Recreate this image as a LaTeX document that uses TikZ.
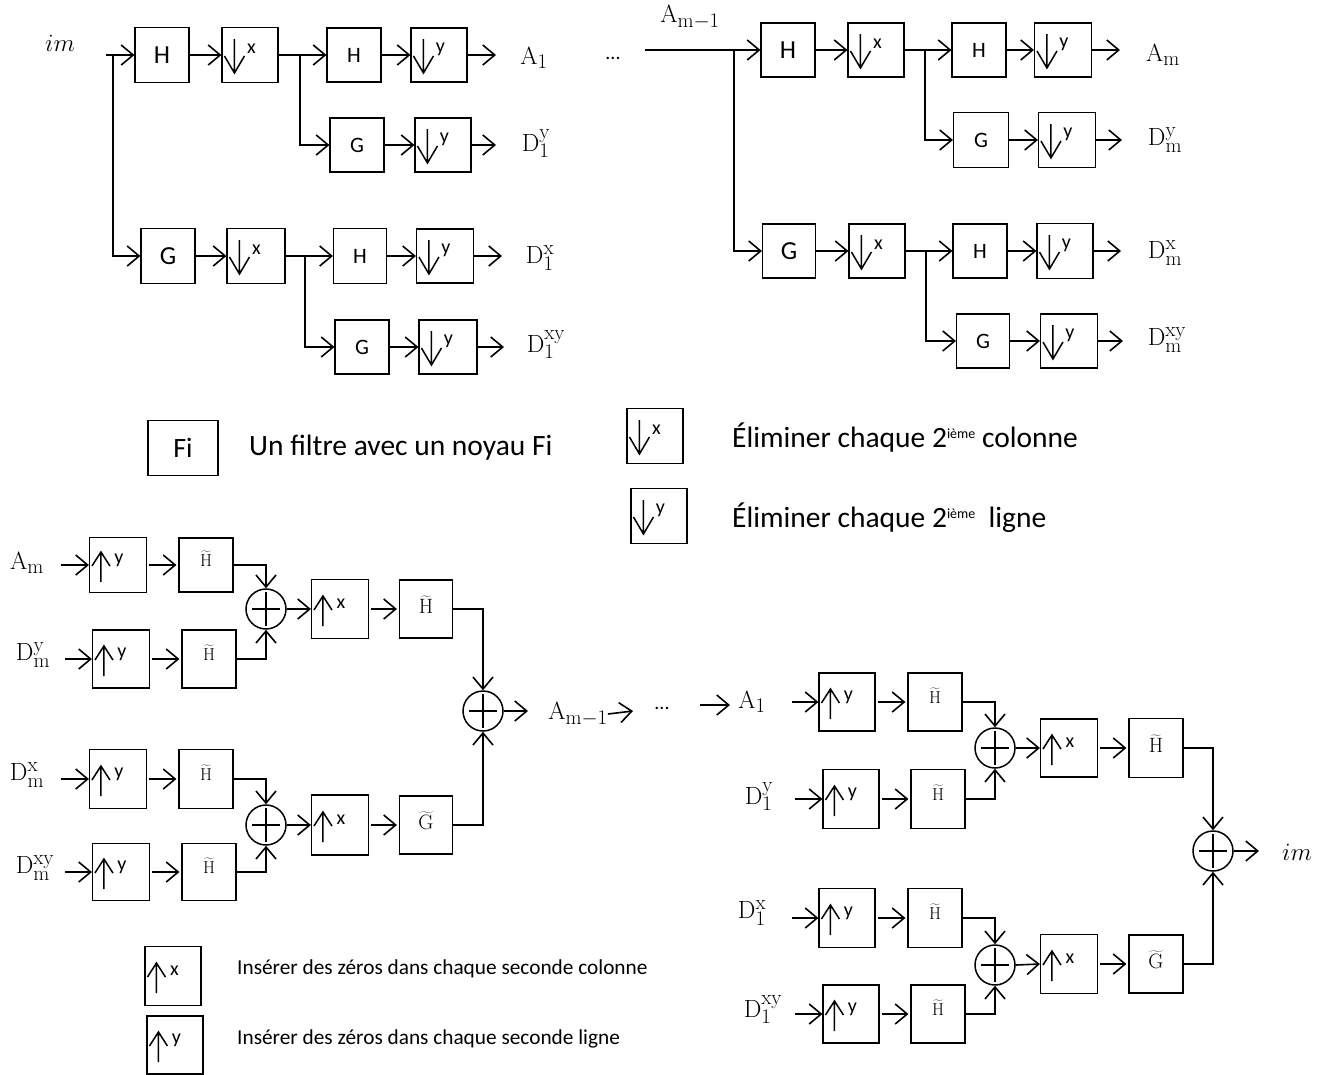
\documentclass[tikz,border=0pt]{standalone}
\usepackage[no-math]{fontspec}
\newfontfamily\calib{Carlito}
\usetikzlibrary{arrows.meta,calc}
\newcommand{\dnbox}[6]{%
  \node[bx, minimum width=#4pt, minimum height=#5pt] (#1) at (#2,#3) {};
  \draw[glyph] ($(#1.west)+(13,-16)$) -- ($(#1.west)+(13,18)$)
     ($(#1.west)+(3,1)$) -- ($(#1.west)+(13,18)$) -- ($(#1.west)+(23,1)$);
  \node[lettxt] (#1-l) at ($(#1.west)+(30,-6)$) {#6};
}
\newcommand{\upbox}[6]{%
  \node[bx, minimum width=#4pt, minimum height=#5pt] (#1) at (#2,#3) {};
  \draw[glyph] ($(#1.west)+(12,17)$) -- ($(#1.west)+(12,-13)$)
     ($(#1.west)+(3,1)$) -- ($(#1.west)+(12,-13)$) -- ($(#1.west)+(21,1)$);
  \node[lettxt] (#1-l) at ($(#1.west)+(30,-5)$) {#6};
}
\newcommand{\sumnode}[3]{%
  \node[sumc] (#1) at (#2,#3) {};
  \draw[plusln] ($(#1.center)+(-14,0)$) -- ($(#1.center)+(14,0)$)
                ($(#1.center)+(0,-17)$) -- ($(#1.center)+(0,17)$);
}
\newcommand{\supi}[1]{\raisebox{9pt}{\fontsize{14}{15}\selectfont #1}}
\begin{document}
\begin{tikzpicture}[x=1pt,y=-1pt,
  bx/.style={draw, line width=1.1pt, inner sep=0pt, rectangle},
  glyph/.style={line width=1.5pt},
  lettxt/.style={font=\calib\fontsize{20}{22}\selectfont, inner sep=0pt},
  conn/.style={line width=1.6pt},
  arr/.style={conn,-{Straight Barb[length=12pt,width=20pt]}},
  lab/.style={font=\fontsize{24.88}{28}\selectfont, inner sep=0pt},
  bigtxt/.style={font=\calib\fontsize{26}{30}\selectfont},
  smalltxt/.style={font=\calib\fontsize{22}{26}\selectfont},
  htone/.style={font=\fontsize{17.28}{20}\selectfont, text depth=13pt},
  httwo/.style={font=\fontsize{20.74}{24}\selectfont, text depth=8pt},
  legtxt/.style={font=\calib\fontsize{29.5}{33}\selectfont, inner sep=0pt, anchor=west},
  smleg/.style={font=\calib\fontsize{21.3}{24}\selectfont, inner sep=0pt, anchor=west},
  sumc/.style={draw, circle, line width=1.5pt, minimum size=40pt, inner sep=0pt},
  plusln/.style={line width=2.6pt}
]
\useasboundingbox (0,0) rectangle (1330,1074);

% ================= top-left decomposition =================
\node[lab] (im1) at (60,43) {$im$};
\coordinate (in1) at (106,55);
\coordinate (sp1) at (113,55);
\node[bx,bigtxt,minimum width=54pt,minimum height=55pt] (tH1) at (162,55) {H};
\dnbox{tDx1}{250}{55}{56}{55}{x}
\node[bx,smalltxt,minimum width=54pt,minimum height=54pt] (tH2) at (354,55) {H};
\dnbox{tDy1}{439}{55}{56}{54}{y}
\coordinate (tA1e) at (496,55);
\node[lab] (tA1) at (534,58) {$\mathrm{A}_1$};

\node[bx,smalltxt,minimum width=54pt,minimum height=54pt] (tG2) at (357,145) {G};
\dnbox{tDy2}{443}{145}{56}{54}{y}
\coordinate (tDye) at (496,145);
\node[lab] (tD1y) at (536,144) {$\mathrm{D}_1^{\mathrm{y}}$};

\node[bx,bigtxt,minimum width=54pt,minimum height=55pt] (tG1) at (168,256) {G};
\dnbox{tDx2}{256}{256}{58}{55}{x}
\node[bx,smalltxt,minimum width=53pt,minimum height=55pt] (tH3) at (360,256) {H};
\dnbox{tDy3}{445}{256}{57}{54}{y}
\coordinate (tDxe) at (502,256);
\node[lab] (tD1x) at (540,258) {$\mathrm{D}_1^{\mathrm{x}}$};

\node[bx,smalltxt,minimum width=54pt,minimum height=54pt] (tG3) at (362,347) {G};
\dnbox{tDy4}{448}{347}{58}{54}{y}
\coordinate (tDxye) at (504,347);
\node[lab] (tD1xy) at (546,345) {$\mathrm{D}_1^{\mathrm{xy}}$};

\coordinate (sp2) at (300,55);
\coordinate (sp3) at (305,256);
\draw[arr] (in1) -- (tH1.west);
\draw[arr] (sp1) |- (tG1.west);
\draw[arr] (tH1.east) -- (tDx1.west);
\draw[arr] (tDx1.east) -- (tH2.west);
\draw[arr] (sp2) |- (tG2.west);
\draw[arr] (tH2.east) -- (tDy1.west);
\draw[arr] (tDy1.east) -- (tA1e);
\draw[arr] (tG2.east) -- (tDy2.west);
\draw[arr] (tDy2.east) -- (tDye);
\draw[arr] (tG1.east) -- (tDx2.west);
\draw[arr] (tDx2.east) -- (tH3.west);
\draw[arr] (sp3) |- (tG3.west);
\draw[arr] (tH3.east) -- (tDy3.west);
\draw[arr] (tDy3.east) -- (tDxe);
\draw[arr] (tG3.east) -- (tDy4.west);
\draw[arr] (tDy4.east) -- (tDxye);

\node[font=\calib\fontsize{20}{24}\selectfont, anchor=base, inner sep=0pt] (dots1) at (613,59) {...};

% ================= top-right decomposition =================
\node[lab] (rAm1) at (690,17) {$\mathrm{A}_{\mathrm{m}-1}$};
\coordinate (in2) at (645,50);
\coordinate (sp4) at (734,50);
\node[bx,bigtxt,minimum width=54pt,minimum height=54pt] (rH1) at (788,50) {H};
\dnbox{rDx1}{876}{50}{56}{54}{x}
\node[bx,smalltxt,minimum width=54pt,minimum height=54pt] (rH2) at (979,50) {H};
\dnbox{rDy1}{1063}{50}{57}{54}{y}
\coordinate (rAme) at (1120,50);
\node[lab] (rAm) at (1163,55) {$\mathrm{A}_{\mathrm{m}}$};

\node[bx,smalltxt,minimum width=55pt,minimum height=55pt] (rG2) at (981,140) {G};
\dnbox{rDy2}{1067}{140}{57}{55}{y}
\coordinate (rDye) at (1122,140);
\node[lab] (rDmy) at (1165,140) {$\mathrm{D}_{\mathrm{m}}^{\mathrm{y}}$};

\node[bx,bigtxt,minimum width=53pt,minimum height=54pt] (rG1) at (789,251) {G};
\dnbox{rDx2}{877}{251}{56}{54}{x}
\node[bx,smalltxt,minimum width=54pt,minimum height=54pt] (rH3) at (980,251) {H};
\dnbox{rDy3}{1065}{251}{56}{55}{y}
\coordinate (rDxe) at (1121,251);
\node[lab] (rDmx) at (1165,253) {$\mathrm{D}_{\mathrm{m}}^{\mathrm{x}}$};

\node[bx,smalltxt,minimum width=53pt,minimum height=54pt] (rG3) at (983,341) {G};
\dnbox{rDy4}{1069}{341}{57}{54}{y}
\coordinate (rDxye) at (1123,341);
\node[lab] (rDmxy) at (1167,340) {$\mathrm{D}_{\mathrm{m}}^{\mathrm{xy}}$};

\coordinate (sp5) at (925,50);
\coordinate (sp6) at (926,251);
\draw[arr] (in2) -- (rH1.west);
\draw[arr] (sp4) |- (rG1.west);
\draw[arr] (rH1.east) -- (rDx1.west);
\draw[arr] (rDx1.east) -- (rH2.west);
\draw[arr] (sp5) |- (rG2.west);
\draw[arr] (rH2.east) -- (rDy1.west);
\draw[arr] (rDy1.east) -- (rAme);
\draw[arr] (rG2.east) -- (rDy2.west);
\draw[arr] (rDy2.east) -- (rDye);
\draw[arr] (rG1.east) -- (rDx2.west);
\draw[arr] (rDx2.east) -- (rH3.west);
\draw[arr] (sp6) |- (rG3.west);
\draw[arr] (rH3.east) -- (rDy3.west);
\draw[arr] (rDy3.east) -- (rDxe);
\draw[arr] (rG3.east) -- (rDy4.west);
\draw[arr] (rDy4.east) -- (rDxye);

% ================= legend (top) =================
\node[bx, font=\calib\fontsize{28}{32}\selectfont, minimum width=70pt, minimum height=55pt] (lF) at (183,448) {Fi};
\node[legtxt] (lFt) at (249,448) {Un filtre avec un noyau Fi};
\dnbox{lDx}{655}{436}{56}{55}{x}
\node[legtxt] (lDxt) at (732,438) {Éliminer chaque 2\supi{ième} colonne};
\dnbox{lDy}{659}{516}{56}{55}{y}
\node[legtxt] (lDyt) at (732,518) {Éliminer chaque 2\supi{ième}\ \ ligne};

% ================= bottom-left reconstruction =================
\node[lab] (bAm) at (27,563) {$\mathrm{A}_{\mathrm{m}}$};
\node[lab] (bDmy) at (33,655) {$\mathrm{D}_{\mathrm{m}}^{\mathrm{y}}$};
\node[lab] (bDmx) at (27,775) {$\mathrm{D}_{\mathrm{m}}^{\mathrm{x}}$};
\node[lab] (bDmxy) at (35,868) {$\mathrm{D}_{\mathrm{m}}^{\mathrm{xy}}$};
\coordinate (bi1) at (61,565);
\coordinate (bi2) at (65,659);
\coordinate (bi3) at (61,779);
\coordinate (bi4) at (65,872);

\upbox{bUy1}{118}{565}{57}{55}{y}
\node[bx,htone,minimum width=54pt,minimum height=54pt] (bHt1) at (206,565) {$\widetilde{\mathrm{H}}$};
\upbox{bUy2}{121}{659}{57}{58}{y}
\node[bx,htone,minimum width=54pt,minimum height=58pt] (bHt3) at (209,659) {$\widetilde{\mathrm{H}}$};
\sumnode{c1}{266}{609}
\upbox{bUx1}{340}{609}{57}{59}{x}
\node[bx,httwo,minimum width=53pt,minimum height=58pt] (bHt2) at (426,609) {$\widetilde{\mathrm{H}}$};

\upbox{bUy3}{118}{779}{57}{59}{y}
\node[bx,htone,minimum width=54pt,minimum height=59pt] (bHt4) at (206,779) {$\widetilde{\mathrm{H}}$};
\upbox{bUy4}{121}{872}{57}{57}{y}
\node[bx,htone,minimum width=54pt,minimum height=57pt] (bHt5) at (209,872) {$\widetilde{\mathrm{H}}$};
\sumnode{c2}{266}{825}
\upbox{bUx2}{340}{825}{57}{60}{x}
\node[bx,httwo,minimum width=53pt,minimum height=58pt] (bGt) at (426,825) {$\widetilde{\mathrm{G}}$};

\sumnode{C1}{483}{711}
\coordinate (C1o) at (528,711);
\node[lab] (bAm1) at (578,714) {$\mathrm{A}_{\mathrm{m}-1}$};
\coordinate (bAm1o) at (633,711);
\node[font=\calib\fontsize{20}{24}\selectfont, anchor=base, inner sep=0pt] (dots2) at (662,709) {...};
\coordinate (d2s) at (700,705);
\coordinate (d2e) at (730,705);

\draw[arr] (bi1) -- (bUy1.west);
\draw[arr] (bi2) -- (bUy2.west);
\draw[arr] (bi3) -- (bUy3.west);
\draw[arr] (bi4) -- (bUy4.west);
\draw[arr,shorten <=2pt,shorten >=2pt] (bUy1.east) -- (bHt1.west);
\draw[arr,shorten <=2pt,shorten >=2pt] (bUy2.east) -- (bHt3.west);
\draw[arr,shorten <=2pt,shorten >=2pt] (bUy3.east) -- (bHt4.west);
\draw[arr,shorten <=2pt,shorten >=2pt] (bUy4.east) -- (bHt5.west);
\draw[arr] (bHt1.east) -| (c1.north);
\draw[arr] (bHt3.east) -| (c1.south);
\draw[arr] (bHt4.east) -| (c2.north);
\draw[arr] (bHt5.east) -| (c2.south);
\draw[arr] (c1.east) -- (bUx1.west);
\draw[arr] (c2.east) -- (bUx2.west);
\draw[arr,shorten <=2pt,shorten >=2pt] (bUx1.east) -- (bHt2.west);
\draw[arr,shorten <=2pt,shorten >=2pt] (bUx2.east) -- (bGt.west);
\draw[arr] (bHt2.east) -| (C1.north);
\draw[arr] (bGt.east) -| (C1.south);
\draw[arr] (C1.east) -- (C1o);
\draw[arr] (bAm1.east) -- (bAm1o);
\draw[arr] (d2s) -- (d2e);

% ================= bottom-right reconstruction =================
\node[lab] (brA1) at (752,702) {$\mathrm{A}_1$};
\node[lab] (brD1y) at (759,797) {$\mathrm{D}_1^{\mathrm{y}}$};
\node[lab] (brD1x) at (752,913) {$\mathrm{D}_1^{\mathrm{x}}$};
\node[lab] (brD1xy) at (763,1010) {$\mathrm{D}_1^{\mathrm{xy}}$};
\coordinate (ri1) at (792,702);
\coordinate (ri2) at (795,799);
\coordinate (ri3) at (792,918);
\coordinate (ri4) at (795,1014);

\upbox{brUy1}{847}{702}{56}{58}{y}
\node[bx,htone,minimum width=54pt,minimum height=58pt] (brHt1) at (935,702) {$\widetilde{\mathrm{H}}$};
\upbox{brUy2}{851}{799}{56}{59}{y}
\node[bx,htone,minimum width=54pt,minimum height=59pt] (brHt3) at (938,799) {$\widetilde{\mathrm{H}}$};
\sumnode{c3}{995}{748}
\upbox{brUx1}{1069}{748}{57}{58}{x}
\node[bx,httwo,minimum width=54pt,minimum height=59pt] (brHt2) at (1156,748) {$\widetilde{\mathrm{H}}$};

\upbox{brUy3}{847}{918}{56}{59}{y}
\node[bx,htone,minimum width=54pt,minimum height=59pt] (brHt4) at (935,918) {$\widetilde{\mathrm{H}}$};
\upbox{brUy4}{851}{1014}{56}{58}{y}
\node[bx,htone,minimum width=54pt,minimum height=58pt] (brHt5) at (938,1014) {$\widetilde{\mathrm{H}}$};
\sumnode{c4}{995}{965}
\upbox{brUx2}{1069}{964}{57}{59}{x}
\node[bx,httwo,minimum width=54pt,minimum height=58pt] (brGt) at (1156,964) {$\widetilde{\mathrm{G}}$};

\sumnode{C2}{1213}{851}
\coordinate (C2o) at (1259,851);
\node[lab] (imout) at (1297,852) {$im$};

\draw[arr] (ri1) -- (brUy1.west);
\draw[arr] (ri2) -- (brUy2.west);
\draw[arr] (ri3) -- (brUy3.west);
\draw[arr] (ri4) -- (brUy4.west);
\draw[arr,shorten <=2pt,shorten >=2pt] (brUy1.east) -- (brHt1.west);
\draw[arr,shorten <=2pt,shorten >=2pt] (brUy2.east) -- (brHt3.west);
\draw[arr,shorten <=2pt,shorten >=2pt] (brUy3.east) -- (brHt4.west);
\draw[arr,shorten <=2pt,shorten >=2pt] (brUy4.east) -- (brHt5.west);
\draw[arr] (brHt1.east) -| (c3.north);
\draw[arr] (brHt3.east) -| (c3.south);
\draw[arr] (brHt4.east) -| (c4.north);
\draw[arr] (brHt5.east) -| (c4.south);
\draw[arr] (c3.east) -- (brUx1.west);
\draw[arr] (c4.east) -- (brUx2.west);
\draw[arr,shorten <=2pt,shorten >=2pt] (brUx1.east) -- (brHt2.west);
\draw[arr,shorten <=2pt,shorten >=2pt] (brUx2.east) -- (brGt.west);
\draw[arr] (brHt2.east) -| (C2.north);
\draw[arr] (brGt.east) -| (C2.south);
\draw[arr] (C2.east) -- (C2o);

% ================= legend (bottom) =================
\upbox{lUx}{173}{976}{56}{59}{x}
\node[smleg] (lUxt) at (237,969) {Insérer des zéros dans chaque seconde colonne};
\upbox{lUy}{175}{1045}{56}{58}{y}
\node[smleg] (lUyt) at (237,1039) {Insérer des zéros dans chaque seconde ligne};
\end{tikzpicture}
\end{document}
